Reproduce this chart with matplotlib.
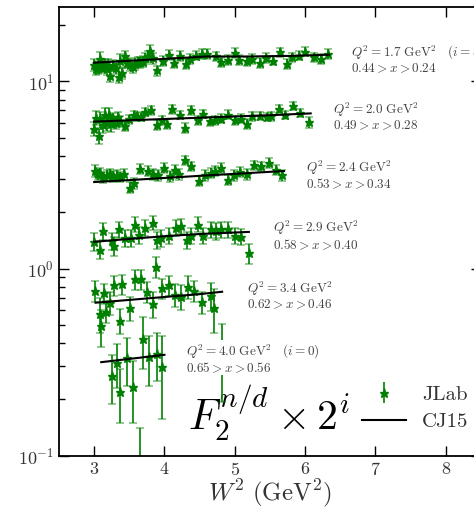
import matplotlib
matplotlib.use('Agg')
import matplotlib.pyplot as plt
from matplotlib.lines import Line2D

plt.rcParams['mathtext.fontset'] = 'cm'
plt.rcParams['font.family'] = 'serif'
plt.rcParams['font.serif'] = ['cmr10']
plt.rcParams['axes.formatter.use_mathtext'] = True

# JLab n/d data, already scaled by 2^i (i=5 at Q2=1.7 down to i=0 at Q2=4.0)
W1 = [3.00,3.02,3.06,3.08,3.10,3.13,3.15,3.18,3.20,3.23,3.27,3.31,3.35,3.37,3.40,3.44,3.47,3.51,3.55,3.58,
      3.62,3.65,3.69,3.72,3.76,3.79,3.83,3.89,3.98,4.07,4.13,4.22,4.30,4.36,4.45,4.53,4.61,4.73,4.80,4.90,
      5.00,5.06,5.17,5.25,5.36,5.44,5.55,5.64,5.74,5.82,5.91,6.00,6.12,6.22,6.32]
F1 = [12.27,11.68,11.92,13.21,11.92,12.07,12.27,11.68,12.27,10.68,12.17,11.78,10.55,12.94,11.12,13.76,12.57,12.27,11.92,12.42,
      12.78,12.68,12.78,13.32,13.65,14.63,13.32,11.45,12.94,13.87,12.57,13.65,12.42,13.21,13.76,14.04,14.04,13.65,12.68,13.10,
      14.21,13.10,12.83,13.21,12.57,13.32,12.94,14.33,12.42,13.48,13.76,14.45,13.48,13.21,14.04]
E1 = [0.85,0.80,0.90,1.10,0.85,0.80,0.95,0.80,0.90,0.75,0.85,0.80,0.70,1.00,0.75,0.85,0.80,0.85,0.80,0.90,
      0.80,0.85,0.85,0.90,0.95,0.95,0.90,0.70,0.80,0.85,0.80,0.85,0.75,0.80,0.80,0.80,0.85,0.80,0.75,0.80,
      0.85,0.80,0.75,0.80,0.75,0.80,0.75,0.85,0.75,0.80,0.80,0.80,0.80,0.75,0.85]

W2 = [3.00,3.02,3.07,3.09,3.13,3.15,3.18,3.21,3.24,3.27,3.31,3.34,3.37,3.44,3.50,3.56,3.61,3.66,3.73,3.81,
      3.89,3.97,4.03,4.11,4.22,4.29,4.38,4.47,4.55,4.65,4.72,4.80,4.90,5.00,5.09,5.17,5.25,5.36,5.46,5.52,
      5.63,5.71,5.83,5.93,6.06]
F2 = [5.59,6.38,5.11,6.27,5.87,6.59,6.02,6.59,5.95,6.27,6.02,6.46,6.12,5.78,6.27,6.59,6.53,6.46,6.86,7.00,
      5.87,6.19,5.95,7.09,6.64,5.64,7.00,6.19,6.72,6.12,6.19,6.32,6.64,6.19,6.32,5.95,6.53,6.53,6.46,6.53,
      7.15,6.64,7.39,6.81,6.07]
E2 = [0.50,0.55,0.45,0.60,0.55,0.65,0.60,0.65,0.55,0.50,0.45,0.40,0.40,0.36,0.35,0.34,0.36,0.35,0.36,0.38,
      0.34,0.35,0.36,0.35,0.34,0.36,0.35,0.34,0.36,0.35,0.34,0.35,0.36,0.34,0.35,0.36,0.35,0.34,0.35,0.36,
      0.35,0.34,0.36,0.35,0.42]

W3 = [3.01,3.05,3.09,3.13,3.18,3.23,3.27,3.32,3.37,3.43,3.51,3.57,3.65,3.77,3.83,3.91,4.00,4.08,4.15,4.21,
      4.29,4.38,4.49,4.57,4.66,4.72,4.81,4.91,4.99,5.08,5.18,5.27,5.37,5.49,5.58,5.67]
F3 = [3.33,3.19,3.24,3.09,3.15,3.19,3.11,3.15,3.09,3.19,2.71,2.85,3.42,3.33,3.19,3.15,3.46,3.11,3.38,3.19,
      3.79,3.52,2.94,3.15,3.24,3.33,3.46,2.99,3.15,3.28,3.19,3.57,3.52,3.67,3.38,3.15]
E3 = [0.24,0.22,0.22,0.21,0.20,0.21,0.20,0.21,0.20,0.20,0.19,0.19,0.21,0.20,0.20,0.20,0.21,0.20,0.21,0.20,
      0.21,0.20,0.19,0.20,0.20,0.21,0.21,0.19,0.20,0.20,0.20,0.21,0.21,0.21,0.20,0.22]

W4 = [3.00,3.09,3.13,3.25,3.28,3.36,3.44,3.52,3.58,3.64,3.73,3.83,3.89,3.95,4.07,4.16,4.23,4.32,4.38,4.48,
      4.55,4.66,4.74,4.81,4.91,5.00,5.09,5.20]
F4 = [1.39,1.26,1.59,1.40,1.32,1.62,1.46,1.46,1.72,1.51,1.65,1.76,1.42,1.46,1.50,1.65,1.69,1.42,1.50,1.72,
      1.50,1.62,1.59,1.62,1.62,1.50,1.48,1.21]
E4 = [0.15,0.14,0.16,0.15,0.15,0.16,0.15,0.15,0.16,0.15,0.16,0.16,0.15,0.15,0.15,0.16,0.16,0.15,0.15,0.16,
      0.15,0.16,0.16,0.16,0.16,0.15,0.15,0.15]

W5 = [3.01,3.09,3.10,3.14,3.17,3.23,3.28,3.37,3.40,3.51,3.58,3.67,3.75,3.83,3.88,3.97,4.07,4.15,4.23,4.33,
      4.42,4.53,4.66,4.71,4.82]
F5 = [0.762,0.572,0.493,0.737,0.589,0.657,0.817,0.527,0.826,0.613,0.875,0.875,0.752,0.647,1.023,0.784,0.817,0.722,0.708,0.800,
      0.762,0.660,0.713,0.613,0.350]
E5 = [0.10,0.12,0.11,0.09,0.08,0.09,0.10,0.08,0.10,0.09,0.11,0.11,0.10,0.10,0.13,0.10,0.10,0.10,0.11,0.11,
      0.10,0.09,0.12,0.16,0.157]

W6 = [3.26,3.33,3.37,3.46,3.55,3.65,3.70,3.78,3.89,3.97]
F6 = [0.267,0.312,0.220,0.332,0.234,0.080,0.419,0.336,0.350,0.297]
E6 = [0.078,0.082,0.070,0.096,0.085,0.060,0.130,0.100,0.100,0.140]

# CJ15 curves
CW1 = [3.0,3.5,4.0,4.6,5.2,5.8,6.34]
CF1 = [12.6,12.9,13.2,13.6,13.6,13.7,13.9]
CW2 = [3.0,3.5,4.0,4.5,5.0,5.5,6.08]
CF2 = [6.1,6.2,6.3,6.4,6.5,6.6,6.75]
CW3 = [3.0,3.5,4.0,4.5,5.0,5.7]
CF3 = [2.90,2.97,3.05,3.13,3.21,3.32]
CW4 = [3.0,3.5,4.0,4.5,5.2]
CF4 = [1.39,1.44,1.49,1.53,1.57]
CW5 = [3.02,3.5,4.0,4.5,4.82]
CF5 = [0.657,0.680,0.705,0.730,0.752]
CW6 = [3.10,3.5,4.0]
CF6 = [0.316,0.329,0.346]

labels = [r'$Q^2 = 1.7\ \mathrm{GeV}^2\quad (i=5)$' + '\n' + r'$0.44 > x > 0.24$',
          r'$Q^2 = 2.0\ \mathrm{GeV}^2$' + '\n' + r'$0.49 > x > 0.28$',
          r'$Q^2 = 2.4\ \mathrm{GeV}^2$' + '\n' + r'$0.53 > x > 0.34$',
          r'$Q^2 = 2.9\ \mathrm{GeV}^2$' + '\n' + r'$0.58 > x > 0.40$',
          r'$Q^2 = 3.4\ \mathrm{GeV}^2$' + '\n' + r'$0.62 > x > 0.46$',
          r'$Q^2 = 4.0\ \mathrm{GeV}^2\quad (i=0)$' + '\n' + r'$0.65 > x > 0.56$']
label_pos = [(0.692, 0.884), (0.650, 0.757), (0.586, 0.625),
             (0.507, 0.491), (0.445, 0.358), (0.301, 0.216)]

fig = plt.figure(figsize=(4.74, 5.08), dpi=100)
ax = fig.add_axes([0.1245, 0.103, 0.8899, 0.8832])

data = [(W1, F1, E1), (W2, F2, E2), (W3, F3, E3), (W4, F4, E4), (W5, F5, E5), (W6, F6, E6)]
curves = [(CW1, CF1), (CW2, CF2), (CW3, CF3), (CW4, CF4), (CW5, CF5), (CW6, CF6)]

for W, F, E in data:
    eb = ax.errorbar(W, F, yerr=E, fmt='*', color='green', ms=6.5, capsize=3,
                     elinewidth=1.2, capthick=1.2, zorder=2)
    for cl in eb[1]:
        cl.set_alpha(0.5)
for CW, CF in curves:
    ax.plot(CW, CF, color='black', lw=1.5, zorder=3)

for s, (xf, yf) in zip(labels, label_pos):
    ax.text(xf, yf, s, transform=ax.transAxes, fontsize=9.5, color='#444444',
            ha='left', va='center', linespacing=0.95, zorder=5,
            bbox=dict(facecolor='white', edgecolor='none', pad=0.3))

ax.text(0.306, 0.056, r'$F_2^{n/d}\times 2^i$', transform=ax.transAxes,
        fontsize=30, ha='left', va='baseline', zorder=1)

h_data = ax.errorbar([], [], yerr=[], fmt='*', color='green', ms=6.5, capsize=3,
                     elinewidth=1.2, capthick=1.2)
h_line = Line2D([], [], color='black', lw=1.5)
leg = ax.legend([h_data, h_line], ['JLab', 'CJ15'], loc='center left',
                bbox_to_anchor=(0.718, 0.106), frameon=False, fontsize=15,
                handlelength=2.1, handletextpad=0.8, labelspacing=0.4,
                borderpad=0, borderaxespad=0)
for t in leg.get_texts():
    t.set_color('#333333')

ax.set_yscale('log')
ax.set_xlim(2.5, 8.5)
ax.set_ylim(0.1, 25)
ax.set_xticks([3, 4, 5, 6, 7, 8])
ax.set_xlabel(r'$W^2\ (\mathrm{GeV}^2)$', fontsize=18, color='#333333', labelpad=-1)
ax.tick_params(which='both', direction='in', top=True, right=True, labelsize=13,
               labelcolor='#333333')
ax.tick_params(which='major', length=7, width=1)
ax.tick_params(which='minor', length=4, width=1)
ax.tick_params(axis='x', which='minor', bottom=False, top=False)
ax.tick_params(axis='x', pad=4)
for sp in ax.spines.values():
    sp.set_linewidth(1.3)

fig.savefig('out.png', dpi=100)
